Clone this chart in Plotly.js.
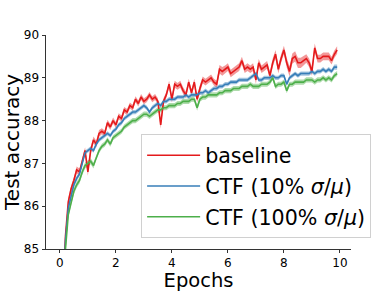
<!DOCTYPE html>
<html>
<head>
<meta charset="utf-8">
<script src="https://cdn.plot.ly/plotly-3.0.1.min.js"></script>
<style>html,body{margin:0;padding:0;background:#fff;}#chart{width:390px;height:292px;}</style>
</head>
<body>
<div id="chart"></div>
<script>
const epochs = [0.0,0.1,0.2,0.3,0.4,0.5,0.6,0.7,0.8,0.9,
1.0,1.1,1.2,1.3,1.4,1.5,1.6,1.7,1.8,1.9,
2.0,2.1,2.2,2.3,2.4,2.5,2.6,2.7,2.8,2.9,
3.0,3.1,3.2,3.3,3.4,3.5,3.6,3.7,3.8,3.9,
4.0,4.1,4.2,4.3,4.4,4.5,4.6,4.7,4.8,4.9,
5.0,5.1,5.2,5.3,5.4,5.5,5.6,5.7,5.8,5.9,
6.0,6.1,6.2,6.3,6.4,6.5,6.6,6.7,6.8,6.9,
7.0,7.1,7.2,7.3,7.4,7.5,7.6,7.7,7.8,7.9,
8.0,8.1,8.2,8.3,8.4,8.5,8.6,8.7,8.8,8.9,
9.0,9.1,9.2,9.3,9.4,9.5,9.6,9.7,9.8,9.9];

const baseline = [82.6,84.1,85.3,86.1,86.4,86.6,86.85,86.8,87.05,87.3,
86.8,87.3,87.55,87.45,87.7,87.75,87.7,87.95,87.85,88.0,
87.9,88.1,88.05,88.25,88.2,88.35,88.3,88.5,88.4,88.55,
88.45,88.5,88.6,88.5,88.55,88.45,87.9,88.45,88.6,88.85,
88.5,88.85,88.8,88.85,88.7,88.6,88.9,88.65,88.9,88.5,
88.75,88.95,88.9,88.95,89.0,88.9,88.85,89.2,89.15,89.2,
89.25,89.1,89.15,89.2,89.25,89.4,89.2,89.25,89.2,89.25,
88.95,89.35,89.2,89.25,89.3,89.05,89.35,89.55,89.2,89.45,
89.65,89.35,89.15,89.45,89.5,89.35,89.35,89.4,89.45,89.35,
89.15,89.7,89.45,89.45,89.5,89.5,89.5,89.4,89.55,89.65];

const ctf10 = [82.4,83.9,85.2,85.95,86.25,86.5,86.65,86.75,87.0,87.25,
87.3,87.35,87.3,87.45,87.55,87.6,87.65,87.7,87.65,87.75,
87.8,87.9,87.95,88.05,88.1,88.15,88.2,88.2,88.25,88.3,
88.35,88.3,88.2,88.3,88.35,88.4,88.35,88.45,88.45,88.5,
88.5,88.5,88.55,88.55,88.55,88.6,88.55,88.6,88.6,88.6,
88.65,88.65,88.7,88.65,88.7,88.75,88.75,88.8,88.8,88.85,
88.85,88.9,88.9,88.9,88.95,88.95,88.95,88.95,89.0,89.05,
89.1,88.95,88.95,89.0,89.0,89.0,89.05,89.0,89.0,89.05,
89.05,88.85,89.0,89.05,89.1,89.05,89.1,89.1,89.1,89.1,
89.15,89.1,89.15,89.15,89.2,89.15,89.2,89.15,89.25,89.25];

const ctf100 = [82.2,83.6,85.0,85.8,86.1,86.35,86.5,86.6,86.8,86.95,
87.0,87.05,86.95,87.15,87.3,87.4,87.45,87.55,87.45,87.6,
87.65,87.7,87.75,87.85,87.9,87.95,88.0,88.0,88.05,88.1,
88.15,88.15,88.1,88.15,88.2,88.25,88.25,88.3,88.3,88.35,
88.35,88.35,88.4,88.4,88.45,88.45,88.45,88.5,88.5,88.3,
88.5,88.55,88.55,88.6,88.6,88.6,88.6,88.65,88.65,88.7,
88.7,88.7,88.75,88.75,88.75,88.8,88.8,88.8,88.85,88.8,
88.8,88.8,88.85,88.85,88.85,88.9,89.0,88.8,88.85,88.85,
88.9,88.7,88.85,88.85,88.9,88.9,88.9,88.9,88.95,88.95,
88.95,88.9,88.95,88.95,89.0,88.95,89.0,88.95,89.05,89.1];

const baselineSpread = [0.10,0.10,0.10,0.09,0.08,0.08,0.08,0.08,0.08,0.08,
0.09,0.08,0.08,0.08,0.08,0.07,0.07,0.07,0.07,0.07,
0.07,0.07,0.07,0.07,0.07,0.07,0.07,0.07,0.07,0.07,
0.07,0.07,0.07,0.07,0.07,0.07,0.09,0.07,0.07,0.08,
0.08,0.08,0.08,0.08,0.08,0.08,0.08,0.08,0.08,0.08,
0.08,0.08,0.08,0.08,0.08,0.08,0.08,0.10,0.10,0.09,
0.09,0.09,0.09,0.09,0.09,0.09,0.09,0.09,0.09,0.09,
0.09,0.09,0.09,0.09,0.09,0.09,0.10,0.10,0.10,0.10,
0.10,0.11,0.12,0.12,0.12,0.12,0.12,0.11,0.10,0.10,
0.10,0.10,0.09,0.09,0.09,0.09,0.09,0.09,0.09,0.09];

const ctf10Spread = [0.08,0.08,0.07,0.06,0.06,0.06,0.06,0.05,0.05,0.05,
0.05,0.05,0.05,0.05,0.05,0.05,0.05,0.05,0.05,0.05,
0.05,0.05,0.05,0.05,0.05,0.05,0.05,0.05,0.05,0.05,
0.05,0.05,0.05,0.05,0.05,0.05,0.05,0.05,0.05,0.05,
0.05,0.05,0.05,0.05,0.05,0.05,0.05,0.05,0.05,0.05,
0.05,0.05,0.05,0.05,0.05,0.05,0.05,0.05,0.05,0.05,
0.05,0.05,0.05,0.05,0.05,0.05,0.05,0.05,0.05,0.05,
0.05,0.05,0.05,0.05,0.05,0.05,0.05,0.05,0.05,0.05,
0.05,0.05,0.05,0.05,0.05,0.05,0.05,0.05,0.05,0.05,
0.05,0.05,0.05,0.05,0.05,0.05,0.05,0.05,0.06,0.06];

const ctf100Spread = [0.09,0.09,0.08,0.07,0.07,0.07,0.07,0.07,0.07,0.07,
0.07,0.07,0.07,0.06,0.06,0.06,0.06,0.06,0.06,0.06,
0.06,0.06,0.06,0.06,0.06,0.06,0.06,0.06,0.06,0.06,
0.06,0.06,0.06,0.06,0.06,0.06,0.06,0.06,0.06,0.06,
0.06,0.06,0.06,0.06,0.06,0.06,0.06,0.06,0.06,0.07,
0.06,0.06,0.06,0.06,0.06,0.06,0.06,0.06,0.06,0.06,
0.06,0.06,0.06,0.06,0.06,0.06,0.06,0.06,0.06,0.06,
0.06,0.06,0.06,0.06,0.06,0.06,0.06,0.06,0.06,0.06,
0.06,0.06,0.06,0.06,0.06,0.06,0.06,0.06,0.06,0.06,
0.06,0.06,0.06,0.06,0.06,0.06,0.06,0.06,0.06,0.06];

const seriesNames = ['baseline', 'CTF (10% <i>σ</i>/<i>μ</i>)', 'CTF (100% <i>σ</i>/<i>μ</i>)'];
const seriesColors = ['#e41a1c', '#377eb8', '#4daf4a'];
const bandColors = ['rgba(228,26,28,0.45)', 'rgba(55,126,184,0.45)', 'rgba(77,175,74,0.45)'];
const xTicks = [0, 2, 4, 6, 8, 10];
const yTicks = [85, 86, 87, 88, 89, 90];

const means = [baseline, ctf10, ctf100];
const spreads = [baselineSpread, ctf10Spread, ctf100Spread];

const traces = [];
for (let s = 0; s < 3; s++) {
  const upper = means[s].map((v, i) => v + spreads[s][i]);
  const lower = means[s].map((v, i) => v - spreads[s][i]);
  traces.push({
    x: epochs.concat(epochs.slice().reverse()),
    y: upper.concat(lower.slice().reverse()),
    type: 'scatter', mode: 'lines', fill: 'toself',
    fillcolor: bandColors[s], line: {width: 0, color: bandColors[s]},
    hoverinfo: 'skip', showlegend: false, legendgroup: 'g' + s
  });
}
for (let s = 0; s < 3; s++) {
  traces.push({
    x: epochs, y: means[s], type: 'scatter', mode: 'lines',
    name: seriesNames[s], legendgroup: 'g' + s,
    line: {color: seriesColors[s], width: 1.6}
  });
}

const layout = {
  width: 390, height: 292,
  margin: {l: 46, r: 39, t: 35, b: 43},
  paper_bgcolor: '#fff', plot_bgcolor: '#fff',
  font: {family: 'DejaVu Sans, sans-serif', color: '#000', size: 12},
  showlegend: true,
  legend: {
    x: 1.066, xanchor: 'right', y: 0.05, yanchor: 'bottom',
    bgcolor: 'rgba(255,255,255,0.85)', bordercolor: '#d0d0d0', borderwidth: 1,
    font: {size: 20.6, family: 'DejaVu Sans, sans-serif'},
    traceorder: 'grouped', tracegroupgap: 1, itemwidth: 53
  },
  xaxis: {
    range: [-0.495, 10.395], tickvals: xTicks, ticktext: xTicks.map(String),
    showgrid: false, zeroline: false, showline: true, linecolor: '#333', linewidth: 1,
    ticks: 'outside', ticklen: 3, tickcolor: '#333', tickfont: {size: 12},
    title: {text: 'Epochs', font: {size: 19.5}, standoff: 5}
  },
  yaxis: {
    range: [85, 90], tickvals: yTicks, ticktext: yTicks.map(String),
    showgrid: false, zeroline: false, showline: true, linecolor: '#333', linewidth: 1,
    ticks: 'outside', ticklen: 3.5, tickcolor: '#333', tickfont: {size: 12},
    title: {text: 'Test accuracy', font: {size: 20}, standoff: 4}
  }
};

Plotly.newPlot('chart', traces, layout, {displayModeBar: false, staticPlot: true});
</script>
</body>
</html>
